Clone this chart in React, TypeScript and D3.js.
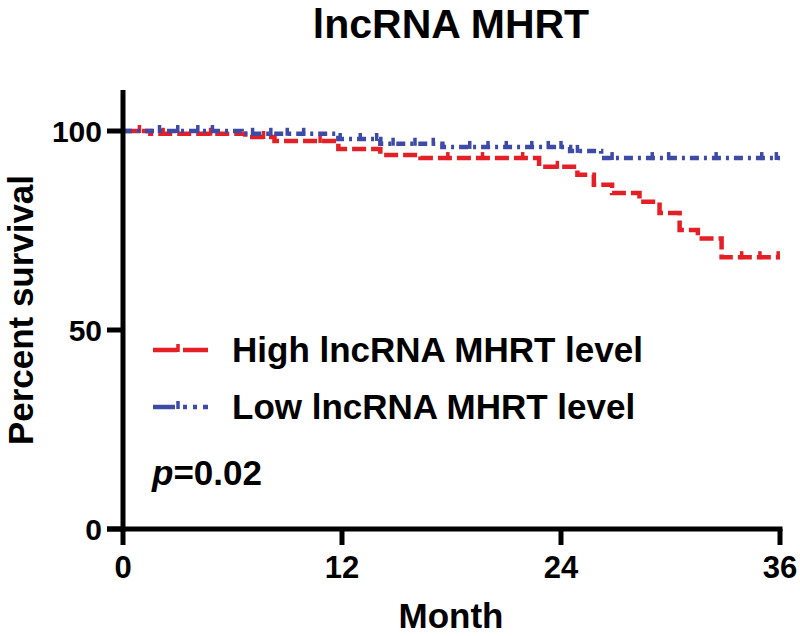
import React, { useEffect } from "react";
import * as d3 from "d3";

const title = "lncRNA MHRT";
const xLabel = "Month";
const yLabel = "Percent survival";
const xTicks = [0, 12, 24, 36];
const yTicks = [0, 50, 100];

const highLabel = "High lncRNA MHRT level";
const highTimes = [0, 1.5, 6.7, 8.3, 11.8, 14.1, 16.3, 22.8, 24.9, 25.8, 26.8, 28.3, 29.4, 30.5, 31.5, 32.8, 36];
const highSurv = [100, 99.3, 98.5, 97.5, 95.5, 94, 93.2, 91, 89, 86.5, 84.4, 82.2, 79.4, 75.1, 73, 68.3, 68.3];
const highCensor = [0.9, 2.2, 4.8, 7.7, 10.8, 17.8, 19.7, 21.9, 23.8, 33.9, 34.9, 35.9];

const lowLabel = "Low lncRNA MHRT level";
const lowTimes = [0, 6.5, 11.8, 14.1, 17.5, 24.5, 26.2, 36];
const lowSurv = [100, 99.3, 98, 96.8, 96, 95, 93.2, 93.2];
const lowCensor = [2.0, 3.0, 4.1, 4.9, 7.1, 8.1, 9.0, 9.9, 11.9, 13.0, 13.9, 14.8, 16.0, 17.0, 19.0, 20.0, 21.0, 22.4, 23.3, 24.0, 24.9, 26.8, 29.0, 29.9, 32.5, 35.0, 35.8];

const pText = "0.02";

const W = 800;
const H = 636;
const FONT = "'Liberation Sans', Arial, Helvetica, sans-serif";
const RED = "#e41f26";
const BLUE = "#3d4aa6";

export default function App() {
  useEffect(() => {
    document.body.style.margin = "0";
  }, []);

  const x = d3.scaleLinear().domain([0, 36]).range([123, 780]);
  const y = d3.scaleLinear().domain([0, 100]).range([529, 131]);

  const line = d3
    .line<[number, number]>()
    .x((d) => x(d[0]))
    .y((d) => y(d[1]))
    .curve(d3.curveStepAfter);

  const survAt = (times: number[], surv: number[], t: number) => {
    const i = d3.bisectRight(times, t) - 1;
    return surv[Math.max(0, Math.min(i, surv.length - 1))];
  };

  const series = [
    { label: highLabel, times: highTimes, surv: highSurv, censor: highCensor, color: RED, dash: "14 5" },
    { label: lowLabel, times: lowTimes, surv: lowSurv, censor: lowCensor, color: BLUE, dash: "9 5 3 5" },
  ];

  const legendY = [350, 407];

  return (
    <svg width={W} height={H} style={{ display: "block", background: "#fff" }} fontFamily={FONT}>
      <text x={451} y={38} textAnchor="middle" fontSize={41} fontWeight="bold" fill="#000">
        {title}
      </text>

      {/* curves */}
      {series.map((s, si) => (
        <g key={si}>
          <path
            d={line(s.times.map((t, i) => [t, s.surv[i]] as [number, number])) || ""}
            fill="none"
            stroke={s.color}
            strokeWidth={4.5}
            strokeDasharray={s.dash}
          />
          {s.censor.map((t, i) => {
            const v = survAt(s.times, s.surv, t);
            return (
              <line
                key={i}
                x1={x(t)}
                x2={x(t)}
                y1={y(v) + 2}
                y2={y(v) - 6}
                stroke={s.color}
                strokeWidth={3.5}
              />
            );
          })}
        </g>
      ))}

      {/* axes */}
      <g stroke="#000" strokeWidth={5}>
        <line x1={x(0)} x2={x(0)} y1={90} y2={y(0) + 2.5} />
        <line x1={107} x2={x(36) + 2.5} y1={y(0)} y2={y(0)} />
        {yTicks.map((t) => (
          <line key={"yt" + t} x1={107} x2={x(0)} y1={y(t)} y2={y(t)} />
        ))}
        {xTicks.map((t) => (
          <line key={"xt" + t} x1={x(t)} x2={x(t)} y1={y(0)} y2={y(0) + 16} />
        ))}
      </g>
      {yTicks.map((t) => (
        <text
          key={"yl" + t}
          x={102}
          y={y(t) + 11}
          textAnchor="end"
          fontSize={30}
          fontWeight="bold"
          fill="#000"
        >
          {t}
        </text>
      ))}
      {xTicks.map((t) => (
        <text
          key={"xl" + t}
          x={x(t)}
          y={578}
          textAnchor="middle"
          fontSize={31}
          fontWeight="bold"
          fill="#000"
        >
          {t}
        </text>
      ))}
      <text x={451} y={628} textAnchor="middle" fontSize={35} fontWeight="bold" fill="#000">
        {xLabel}
      </text>
      <text
        transform="translate(33,310) rotate(-90)"
        textAnchor="middle"
        fontSize={35}
        fontWeight="bold"
        fill="#000"
        textLength={270}
        lengthAdjust="spacingAndGlyphs"
      >
        {yLabel}
      </text>

      {/* legend */}
      {series.map((s, si) => (
        <g key={"lg" + si}>
          <line
            x1={153}
            x2={208}
            y1={legendY[si]}
            y2={legendY[si]}
            stroke={s.color}
            strokeWidth={4.5}
            strokeDasharray={si === 0 ? "24 6 30" : "22 8 4 6 4 6"}
          />
          <line
            x1={178}
            x2={178}
            y1={legendY[si] + 2}
            y2={legendY[si] - 6}
            stroke={s.color}
            strokeWidth={3.5}
          />
          <text x={232} y={legendY[si] + 12} fontSize={35} fontWeight="bold" fill="#000">
            {s.label}
          </text>
        </g>
      ))}

      <text x={152} y={485} fontSize={35} fontWeight="bold" fill="#000">
        <tspan fontStyle="italic">p</tspan>
        <tspan>={pText}</tspan>
      </text>
    </svg>
  );
}
